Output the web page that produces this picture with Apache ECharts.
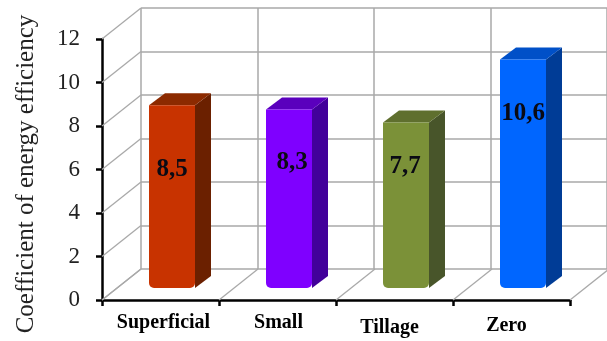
<!DOCTYPE html>
<html>
<head>
<meta charset="utf-8">
<style>html,body{margin:0;padding:0;background:#fff}#chart{width:607px;height:341px}</style>
<script src="https://cdn.jsdelivr.net/npm/echarts@6/dist/echarts.min.js"></script>
</head>
<body>
<div id="chart"></div>
<script>
var categories = ['Superficial', 'Small', 'Tillage', 'Zero'];
var values = [8.5, 8.3, 7.7, 10.6];
var valueLabels = ['8,5', '8,3', '7,7', '10,6'];
var yTicks = [0, 2, 4, 6, 8, 10, 12];

// bar faces: front, side, top
var barColors = [
    ['#c83300', '#6b2000', '#8c2a00'],
    ['#7f00ff', '#42009a', '#5a00bd'],
    ['#7b9138', '#48552a', '#5f6f2e'],
    ['#0066ff', '#003c96', '#0050c8']
];

// look of the fake 3d box
var depthX = 39, depthY = 31;
var barW = 46, sideW = 16, sideH = 12, barShift = -11.5, topLift = 10, baseLift = 12;
var labelShift = [0, 3, -1, 0];
var labelAt = [5.98, 6.3, 6.12, 8.55];
var catOffset = [[0, 0, 0, 6], [0, 0, 0, 2], [5, 10, 0, 0], [3, 10, 0, 0]];
var gridColor = '#a9a9a9';
var serif = '"Liberation Serif", serif';

function catData() {
    return categories.map(function (name, i) {
        return {value: name, textStyle: {padding: catOffset[i]}};
    });
}

function renderWallDiag(params, api) {
    var band = api.size([1, 0])[0];
    var p = api.coord([0, api.value(1)]);
    var x = p[0] - band / 2;
    return {
        type: 'line',
        shape: {x1: x, y1: p[1], x2: x + depthX, y2: p[1] - depthY},
        style: {stroke: gridColor, lineWidth: 1.3}
    };
}

function renderFloorDiag(params, api) {
    var band = api.size([1, 0])[0];
    var p = api.coord([api.value(0), 0]);
    var kids = [];
    var edges = [p[0] - band / 2];
    if (params.dataIndex === categories.length - 1) edges.push(p[0] + band / 2);
    edges.forEach(function (x) {
        kids.push({
            type: 'line',
            shape: {x1: x, y1: p[1], x2: x + depthX, y2: p[1] - depthY},
            style: {stroke: gridColor, lineWidth: 1.3}
        });
    });
    return {type: 'group', children: kids};
}

function renderBar(params, api) {
    var i = params.dataIndex;
    var c = barColors[i];
    var top = api.coord([i, api.value(1)]);
    var base = api.coord([i, 0]);
    var x = top[0] - barShift - barW / 2;
    var y = top[1] - topLift;
    var b = base[1] - baseLift;
    var lab = api.coord([i, labelAt[i]]);
    return {
        type: 'group',
        children: [
            {
                type: 'polygon',
                shape: {points: [[x + barW, y], [x + barW + sideW, y - sideH], [x + barW + sideW, b - sideH], [x + barW, b]]},
                style: {fill: c[1]}
            },
            {
                type: 'polygon',
                shape: {points: [[x, y], [x + sideW, y - sideH], [x + barW + sideW, y - sideH], [x + barW, y]]},
                style: {fill: c[2]}
            },
            {
                type: 'rect',
                shape: {x: x, y: y, width: barW, height: b - y, r: [0, 0, 5, 5]},
                style: {fill: c[0]}
            },
            {
                type: 'text',
                x: x + barW / 2 + labelShift[i],
                y: lab[1],
                style: {
                    text: valueLabels[i],
                    fill: '#0a0a14',
                    font: 'bold 25px ' + serif,
                    align: 'center',
                    verticalAlign: 'middle'
                }
            }
        ]
    };
}

var option = {
    backgroundColor: '#fff',
    animation: false,
    grid: [
        {left: 102, top: 39, width: 468, height: 261},
        {left: 141, top: 8, width: 469, height: 261}
    ],
    xAxis: [
        {
            type: 'category',
            gridIndex: 0,
            data: catData(),
            axisLine: {lineStyle: {color: '#000', width: 2.5}},
            axisTick: {show: true, length: 6, lineStyle: {color: '#000', width: 2.5}, alignWithLabel: false},
            axisLabel: {color: '#000', fontFamily: serif, fontWeight: 'bold', fontSize: 20, margin: 13, interval: 0}
        },
        {
            type: 'category',
            gridIndex: 1,
            data: categories,
            axisLine: {show: false},
            axisTick: {show: false},
            axisLabel: {show: false},
            splitLine: {show: true, interval: 0, lineStyle: {color: gridColor, width: 1.5}}
        }
    ],
    yAxis: [
        {
            type: 'value',
            gridIndex: 0,
            min: yTicks[0],
            max: yTicks[yTicks.length - 1],
            interval: 2,
            name: 'Coefficient of energy efficiency',
            nameLocation: 'middle',
            nameGap: 63,
            nameTextStyle: {color: '#222', fontFamily: serif, fontSize: 25, padding: [0, 9, 0, 0]},
            axisLine: {show: true, lineStyle: {color: '#000', width: 2.5}},
            axisTick: {show: true, length: 6, lineStyle: {color: '#000', width: 2.5}},
            axisLabel: {color: '#222', fontFamily: serif, fontSize: 23, margin: 22, padding: [4, 0, 0, 0]},
            splitLine: {show: false}
        },
        {
            type: 'value',
            gridIndex: 1,
            min: yTicks[0],
            max: yTicks[yTicks.length - 1],
            interval: 2,
            axisLine: {show: false},
            axisTick: {show: false},
            axisLabel: {show: false},
            splitLine: {show: true, lineStyle: {color: gridColor, width: 1.5}}
        }
    ],
    series: [
        {
            type: 'custom',
            xAxisIndex: 0,
            yAxisIndex: 0,
            clip: false,
            z: 1,
            renderItem: renderWallDiag,
            data: yTicks.map(function (t) { return [0, t]; })
        },
        {
            type: 'custom',
            xAxisIndex: 0,
            yAxisIndex: 0,
            clip: false,
            z: 1,
            renderItem: renderFloorDiag,
            data: categories.map(function (n, i) { return [i, 0]; })
        },
        {
            type: 'custom',
            xAxisIndex: 0,
            yAxisIndex: 0,
            clip: false,
            z: 5,
            renderItem: renderBar,
            data: values.map(function (v, i) { return [i, v]; })
        }
    ]
};

var chart = echarts.init(document.getElementById('chart'));
chart.setOption(option);
</script>
</body>
</html>
